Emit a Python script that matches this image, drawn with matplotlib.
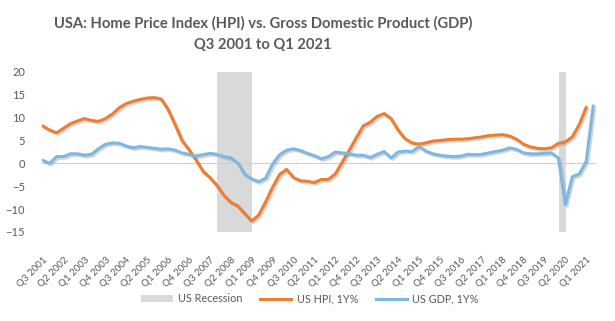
import numpy as np
import matplotlib.pyplot as plt
import matplotlib.patheffects as pe
from matplotlib.patches import Patch
from matplotlib.lines import Line2D

### data ###

# one label per quarter, Q3 2001 .. Q2 2021 (80 quarters)
quarters = []
for yr in range(2001, 2022):
	for q in range(1, 5):
		if (yr == 2001 and q < 3) or (yr == 2021 and q > 2):
			continue
		quarters.append('Q%d %d' % (q, yr))

# US HPI, year over year %, Q3 2001 .. Q1 2021
hpi = [8.2, 7.3, 6.7, 7.7, 8.7, 9.3, 9.8, 9.4, 9.2, 9.8,
	10.8, 12.2, 13.1, 13.6, 14.0, 14.3, 14.4, 14.1, 11.8, 8.5,
	5.0, 3.0, 0.8, -1.7, -3.1, -4.8, -7.0, -8.5, -9.3, -11.0,
	-12.6, -11.3, -8.4, -5.2, -2.4, -1.3, -3.1, -3.8, -3.9, -4.2,
	-3.5, -3.5, -2.3, 0.3, 2.9, 5.6, 8.2, 9.0, 10.3, 10.9,
	9.8, 7.3, 5.4, 4.5, 4.2, 4.5, 4.9, 5.0, 5.2, 5.3,
	5.3, 5.4, 5.6, 5.8, 6.1, 6.2, 6.3, 6.0, 5.3, 4.2,
	3.6, 3.3, 3.2, 3.4, 4.4, 4.7, 5.8, 8.5, 12.3]

# US GDP, year over year %, Q3 2001 .. Q2 2021
gdp = [0.7, 0.0, 1.5, 1.5, 2.1, 2.1, 1.8, 2.0, 3.2, 4.2,
	4.5, 4.4, 3.8, 3.4, 3.7, 3.5, 3.3, 3.1, 3.2, 2.9,
	2.3, 2.0, 1.6, 1.9, 2.2, 2.0, 1.5, 1.2, 0.1, -2.4,
	-3.4, -4.0, -3.2, -0.1, 1.9, 2.9, 3.2, 2.8, 2.2, 1.7,
	1.0, 1.5, 2.5, 2.3, 2.1, 1.8, 1.8, 1.3, 2.0, 2.6,
	1.2, 2.5, 2.7, 2.6, 3.7, 2.7, 2.1, 1.8, 1.6, 1.5,
	1.6, 2.0, 1.9, 2.0, 2.3, 2.6, 2.9, 3.4, 3.1, 2.3,
	2.1, 2.1, 2.2, 2.3, 1.2, -9.0, -2.9, -2.3, 0.5, 12.6]

# quarters flagged as recession
recession = [25, 26, 27, 28, 29, 74]

### plot ###

plt.rcParams['font.family'] = ['Lato', 'DejaVu Sans']
grey = '#595959'
orange = '#ED7D31'
blue = '#7DB8E2'

fig = plt.figure(figsize=(6.15, 3.21), dpi=100)
ax = fig.add_axes([41.7 / 615, 1 - 232 / 321, 555 / 615, 160 / 321])

ax.bar([r + 0.55 for r in recession], 35, bottom=-15, width=1.0,
	color='#D9D9D9', linewidth=0, zorder=1)
ax.axhline(0, color='#D0D0D0', lw=0.8, zorder=2)

shadow = [pe.SimpleLineShadow(offset=(1.2, -1.2), shadow_color='#888888', alpha=0.35), pe.Normal()]
ax.plot(np.arange(len(hpi)), hpi, color=orange, lw=2.2, zorder=3, path_effects=shadow,
	solid_capstyle='round', solid_joinstyle='round')
ax.plot(np.arange(len(gdp)), gdp, color=blue, lw=2.2, zorder=4, path_effects=shadow,
	solid_capstyle='round', solid_joinstyle='round')

ax.set_xlim(-0.14, 79.5)
ax.set_ylim(-15, 20)
ax.set_yticks(range(-15, 21, 5))
ticks = list(range(0, 79, 3))
ax.set_xticks(ticks)
ax.set_xticklabels([quarters[t] for t in ticks], rotation=45, ha='right',
	rotation_mode='anchor')
ax.tick_params(axis='y', length=0, labelsize=8, colors=grey, pad=12)
ax.tick_params(axis='x', length=0, labelsize=7, colors=grey, pad=17)
for s in ax.spines.values():
	s.set_visible(False)

fig.text(263 / 615, 1 - 23 / 321, 'USA: Home Price Index (HPI) vs. Gross Domestic Product (GDP)',
	ha='center', va='center', fontsize=10.6, fontweight='bold', color=grey)
fig.text(263 / 615, 1 - 45 / 321, 'Q3 2001 to Q1 2021',
	ha='center', va='center', fontsize=10.6, fontweight='bold', color=grey)

handles = [Patch(facecolor='#D9D9D9', edgecolor='none'),
	Line2D([], [], color=orange, lw=2.2),
	Line2D([], [], color=blue, lw=2.2)]
fig.legend(handles, ['US Recession', 'US HPI, 1Y%', 'US GDP, 1Y%'], loc='center',
	bbox_to_anchor=(310 / 615, 1 - 299 / 321), ncol=3, frameon=False, fontsize=7.8,
	labelcolor=grey, handlelength=2.9, handleheight=0.6, columnspacing=1.6, handletextpad=0.5)

fig.savefig('out.png', dpi=100)
